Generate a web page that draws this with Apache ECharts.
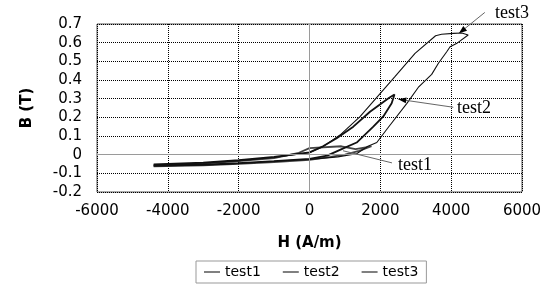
<!DOCTYPE html>
<html>
<head>
<meta charset="utf-8">
<script src="https://cdn.jsdelivr.net/npm/echarts@6/dist/echarts.min.js"></script>
<style>
  html, body { margin: 0; padding: 0; background: #fff; }
  #main { width: 546px; height: 293px; }
</style>
</head>
<body>
<div id="main"></div>
<script>
// B-H loops, [H (A/m), B (T)]
const seriesNames = ['test1', 'test2', 'test3'];

const test1 = [
  [-4400, -0.062], [-3000, -0.057], [-2000, -0.049], [-1000, -0.040], [0, -0.028],
  [600, -0.012], [1000, 0.000], [1400, 0.020], [1750, 0.045], [1300, 0.030],
  [900, 0.045], [0, 0.035], [-300, 0.010], [-1000, -0.018], [-2000, -0.035],
  [-3000, -0.048], [-4400, -0.058]
];

const test2 = [
  [-4400, -0.058], [-3000, -0.053], [-2000, -0.045], [-1000, -0.035], [0, -0.022],
  [500, -0.005], [955, 0.034], [1332, 0.065], [1802, 0.150], [2084, 0.205],
  [2320, 0.275], [2400, 0.322], [2250, 0.305], [1708, 0.230], [1237, 0.150],
  [768, 0.088], [381, 0.045], [0, 0.012], [-1000, -0.012], [-2000, -0.030],
  [-3000, -0.043], [-4400, -0.052]
];

const test3 = [
  [-4400, -0.060], [-3500, -0.058], [-2500, -0.052], [-1500, -0.042], [-500, -0.030],
  [0, -0.025], [800, -0.012], [1330, 0.005], [1650, 0.045], [1900, 0.065],
  [2200, 0.140], [2750, 0.275], [3070, 0.360], [3450, 0.430], [3640, 0.490],
  [3870, 0.550], [3970, 0.578], [4150, 0.595], [4480, 0.641], [4300, 0.652],
  [4060, 0.650], [3730, 0.645], [3560, 0.637], [2980, 0.543], [2400, 0.415],
  [1426, 0.204], [861, 0.105], [381, 0.043], [0, 0.010], [-1000, -0.015],
  [-2000, -0.032], [-3000, -0.045], [-4400, -0.055]
];

// annotations in data units: label anchor, pointer start, pointer end
const noteNames = ['test3', 'test2', 'test1'];
const noteText = [[5240, 0.757], [4164, 0.249], [2499, -0.055]];
const noteFrom = [[4950, 0.762], [4060, 0.254], [2329, -0.044]];
const noteTo = [[4220, 0.650], [2507, 0.297], [946, 0.021]];
const noteArrow = [true, true, false];

const chart = echarts.init(document.getElementById('main'));

const font = '"DejaVu Sans", Verdana, sans-serif';

chart.setOption({
  animation: false,
  backgroundColor: '#fff',
  grid: {
    left: 97, right: 24, top: 24, bottom: 101,
    show: true, borderColor: '#555', borderWidth: 1
  },
  legend: {
    data: seriesNames,
    top: 261,
    left: 196,
    icon: 'rect',
    itemWidth: 16,
    itemHeight: 1,
    itemGap: 22,
    padding: [4, 8, 4, 8],
    borderColor: '#999',
    borderWidth: 1,
    textStyle: { fontSize: 14, color: '#000', fontFamily: font }
  },
  xAxis: {
    type: 'value',
    min: -6000, max: 6000, interval: 2000,
    name: 'H (A/m)',
    nameLocation: 'middle',
    nameGap: 44,
    nameTextStyle: { fontSize: 15, fontWeight: 'bold', color: '#000', fontFamily: font },
    axisLine: { show: false },
    axisTick: { show: false },
    axisLabel: { fontSize: 15, color: '#000', margin: 12, fontFamily: font, formatter: v => String(v) },
    splitLine: { lineStyle: { type: 'dotted', color: '#000', width: 1 } }
  },
  yAxis: {
    type: 'value',
    min: -0.2, max: 0.7, interval: 0.1,
    name: 'B (T)',
    nameLocation: 'middle',
    nameGap: 62,
    nameTextStyle: { fontSize: 15, fontWeight: 'bold', color: '#000', fontFamily: font },
    axisLine: { show: false },
    axisTick: { show: false },
    axisLabel: {
      fontSize: 15, color: '#000', margin: 15, fontFamily: font,
      formatter: v => Math.abs(v) < 1e-9 ? '0' : v.toFixed(1)
    },
    splitLine: { lineStyle: { type: 'dotted', color: '#000', width: 1 } }
  },
  series: [
    {
      name: 'test1', type: 'line', data: test1, color: '#000',
      showSymbol: false, symbol: 'none',
      lineStyle: { color: '#444', width: 1.8 },
      markLine: {
        silent: true, symbol: 'none', label: { show: false },
        lineStyle: { color: '#9a9a9a', type: 'solid', width: 1 },
        data: [{ xAxis: 0 }, { yAxis: 0 }]
      }
    },
    {
      name: 'test2', type: 'line', data: test2, color: '#000',
      showSymbol: false, symbol: 'none',
      lineStyle: { color: '#111', width: 1.8 }
    },
    {
      name: 'test3', type: 'line', data: test3, color: '#000',
      showSymbol: false, symbol: 'none',
      lineStyle: { color: '#111', width: 1.1 }
    }
  ]
});

// pointer lines and labels, placed through the chart's own scales
const graphics = [];
noteNames.forEach((name, i) => {
  const t = chart.convertToPixel({ gridIndex: 0 }, noteText[i]);
  const a = chart.convertToPixel({ gridIndex: 0 }, noteFrom[i]);
  const b = chart.convertToPixel({ gridIndex: 0 }, noteTo[i]);
  graphics.push({
    type: 'line',
    shape: { x1: a[0], y1: a[1], x2: b[0], y2: b[1] },
    style: { stroke: '#666', lineWidth: 1 },
    z: 10
  });
  if (noteArrow[i]) {
    const dx = b[0] - a[0], dy = b[1] - a[1];
    const len = Math.sqrt(dx * dx + dy * dy);
    const ux = dx / len, uy = dy / len;
    const bx = b[0] - ux * 8, by = b[1] - uy * 8;
    graphics.push({
      type: 'polygon',
      shape: { points: [[b[0], b[1]], [bx - uy * 3, by + ux * 3], [bx + uy * 3, by - ux * 3]] },
      style: { fill: '#000' },
      z: 11
    });
  }
  graphics.push({
    type: 'text',
    x: t[0], y: t[1],
    style: {
      text: name, fill: '#000',
      font: '18px "Liberation Serif", "Times New Roman", serif',
      align: 'left', verticalAlign: 'middle'
    },
    z: 12
  });
});
chart.setOption({ graphic: graphics });
</script>
</body>
</html>
